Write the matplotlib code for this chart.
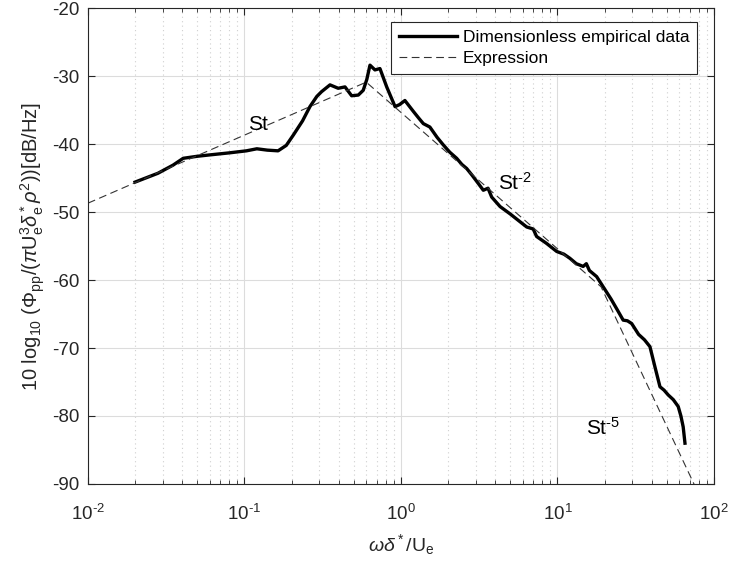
import numpy as np
import matplotlib
matplotlib.use("Agg")
import matplotlib.pyplot as plt
from matplotlib.ticker import FuncFormatter

plt.rcParams['font.family'] = ['Liberation Sans', 'DejaVu Sans']
plt.rcParams['mathtext.fontset'] = 'custom'
plt.rcParams['mathtext.rm'] = 'Liberation Sans'
plt.rcParams['mathtext.it'] = 'Liberation Sans:italic'
plt.rcParams['axes.unicode_minus'] = False

# dimensionless empirical spectrum
st_data = [0.020, 0.028, 0.035, 0.0406, 0.050, 0.060, 0.080, 0.103, 0.120, 0.140, 0.164,
           0.185, 0.205, 0.235, 0.262, 0.290, 0.311, 0.352, 0.397, 0.439, 0.484, 0.534,
           0.574, 0.605, 0.634, 0.682, 0.734, 0.811, 0.917, 0.98, 1.06, 1.20, 1.30, 1.39,
           1.53, 1.70, 1.86, 2.05, 2.27, 2.45, 2.63, 2.85, 3.12, 3.36, 3.6, 3.8, 4.30, 5.0,
           5.6, 6.36, 7.0, 7.36, 8.5, 9.89, 11.0, 12.0, 13.2, 14.6, 15.3, 16.0, 17.8, 19.6,
           22.0, 24.0, 26.3, 28.0, 29.8, 33.0, 36.0, 39.0, 42.0, 45.2, 48.0, 51.0, 55.0,
           59.1, 61.5, 63.6, 65.3]
phi_data = [-45.6, -44.3, -43.1, -42.1, -41.8, -41.6, -41.3, -41.0, -40.7, -40.9, -41.0,
            -40.2, -38.7, -36.6, -34.5, -33.0, -32.3, -31.3, -31.8, -31.6, -32.9, -32.8,
            -32.1, -30.5, -28.4, -29.1, -28.9, -31.6, -34.5, -34.2, -33.6, -35.2, -36.2, -37.0,
            -37.5, -39.0, -40.1, -41.2, -42.1, -43.0, -43.6, -44.6, -45.8, -46.8, -46.5, -47.8,
            -49.2, -50.3, -51.2, -52.2, -52.5, -53.6, -54.6, -55.8, -56.2, -56.8, -57.6, -58.0,
            -57.6, -58.6, -59.5, -61.0, -62.8, -64.3, -65.9, -66.0, -66.4, -68.0, -68.8, -69.8,
            -72.8, -75.7, -76.2, -76.9, -77.6, -78.6, -80.0, -81.6, -84.0]

# piecewise power-law fit: St, St^-2, St^-5
expr_st = [0.01, 0.6, 19.0, 80.0]
expr_phi = [-48.7, -30.9, -61.0, -91.5]

fig = plt.figure(figsize=(7.3, 5.7), dpi=100)
ax = fig.add_axes([0.1205, 0.1509, 0.8575, 0.835])

ax.plot(st_data, phi_data, color='black', lw=2.4, label='Dimensionless empirical data')
ax.plot(expr_st, expr_phi, color='#333333', lw=0.8, ls=(0, (7, 4)),
        label='Expression')

ax.set_xscale('log')
ax.set_xlim(1e-2, 1e2)
ax.set_ylim(-90, -20)
ax.set_yticks(np.arange(-90, -19, 10))
ax.xaxis.set_major_formatter(FuncFormatter(
    lambda v, p: r'10$^{\text{%d}}$' % round(np.log10(v))))

ax.grid(True, which='major', color='#dcdcdc', lw=0.8)
ax.grid(True, which='minor', axis='x', color='#cfcfcf', lw=0.8, ls=(0, (1, 3)))
ax.set_axisbelow(True)

axcol = '#262626'
for s in ax.spines.values():
    s.set_color(axcol)
    s.set_linewidth(0.8)
ax.tick_params(which='both', direction='in', top=True, right=True, colors=axcol,
               labelsize=13.5)
ax.tick_params(which='major', length=5)
ax.tick_params(which='minor', length=3)
ax.tick_params(axis='x', which='major', pad=14)
ax.tick_params(axis='y', which='major', pad=6)

ax.set_xlabel(r'$\it{\omega\delta}^*$/U$_\mathrm{e}$', fontsize=14, color=axcol, labelpad=6)
ax.set_ylabel(r'10 log$_{10}$ ($\Phi_\mathrm{pp}$/($\pi$U$_\mathrm{e}^3$$\it{\delta}_\mathrm{e}^*$$\it{\rho}^2$))[dB/Hz]',
              fontsize=14.5, color=axcol, labelpad=4)

ax.text(0.122, -37.2, 'St', fontsize=15, ha='center', va='center')
ax.text(5.35, -45.7, r'St$^{\text{-2}}$', fontsize=15, ha='center', va='center')
ax.text(19.5, -81.8, r'St$^{\text{-5}}$', fontsize=15, ha='center', va='center')

leg = ax.legend(loc='upper right', fontsize=12.5, fancybox=False, framealpha=1,
                edgecolor=axcol, handlelength=3.3, handletextpad=0.35, borderpad=0.45,
                labelspacing=0.35, borderaxespad=0, bbox_to_anchor=(0.973, 0.971))
leg.get_frame().set_linewidth(0.8)

fig.savefig('out.png', dpi=100)
